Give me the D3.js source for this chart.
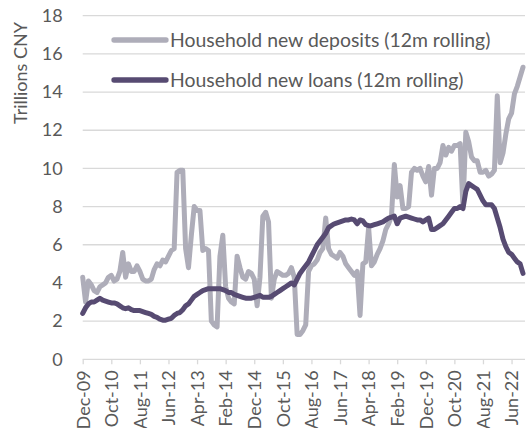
<!DOCTYPE html>
<html>
<head>
<meta charset="utf-8">
<script src="https://cdn.jsdelivr.net/npm/d3@7"></script>
<style>
  body { margin: 0; background: #fff; }
  text { font-family: Lato, "Liberation Sans", sans-serif; fill: #595959; }
</style>
</head>
<body>
<div class="canvas"></div>
<script>
// monthly categories, Dec-09 .. Oct-22
const months = d3.timeMonth.range(new Date(2009, 11, 1), new Date(2022, 10, 1));
const tickLabels = ['Dec-09','Oct-10','Aug-11','Jun-12','Apr-13','Feb-14','Dec-14','Oct-15',
  'Aug-16','Jun-17','Apr-18','Feb-19','Dec-19','Oct-20','Aug-21','Jun-22'];
const yTicks = [0, 2, 4, 6, 8, 10, 12, 14, 16, 18];

const deposits = [
  4.3, 3.0, 4.1, 3.9, 3.6, 3.5, 3.8, 3.9, 4.0, 4.3,
  4.4, 4.1, 4.2, 4.6, 5.6, 4.3, 5.0, 4.6, 4.6, 4.9,
  4.6, 4.2, 4.1, 4.1, 4.2, 4.7, 5.0, 4.9, 5.2, 5.1,
  5.4, 5.7, 5.8, 9.8, 9.9, 9.9, 5.8, 4.8, 6.5, 8.0,
  7.8, 7.8, 5.7, 5.8, 5.7, 2.0, 1.8, 1.7, 5.4, 6.5,
  3.8, 3.2, 3.0, 2.9, 5.4, 4.8, 4.3, 4.2, 4.6, 4.5,
  4.2, 2.8, 4.3, 7.5, 7.7, 7.2, 3.2, 4.2, 4.6, 4.5,
  4.4, 4.4, 4.5, 4.8, 4.3, 1.3, 1.3, 1.5, 1.8, 4.6,
  4.9, 5.0, 5.2, 5.6, 5.8, 7.4, 5.8, 5.5, 5.4, 5.3,
  5.6, 5.4, 5.0, 4.8, 4.6, 4.4, 4.6, 2.3, 5.0, 5.1,
  6.9, 4.9, 5.1, 5.5, 5.8, 6.2, 6.8, 7.1, 7.5, 10.2,
  8.5, 9.1, 7.9, 7.9, 8.0, 9.8, 10.0, 9.9, 10.0, 9.6,
  9.3, 10.1, 8.6, 10.0, 10.0, 10.3, 11.2, 10.7, 11.1, 10.9,
  11.2, 11.2, 11.3, 8.0, 11.9, 11.4, 10.6, 10.4, 10.4, 9.8,
  9.8, 9.9, 9.6, 9.7, 9.9, 13.8, 10.3, 10.8, 11.8, 12.6,
  12.9, 13.9, 14.3, 14.8, 15.3
];
const loans = [
  2.4, 2.7, 2.9, 3.0, 3.0, 3.1, 3.2, 3.1, 3.05, 3.0,
  2.95, 2.95, 2.9, 2.8, 2.7, 2.65, 2.7, 2.6, 2.55, 2.55,
  2.55, 2.5, 2.45, 2.4, 2.35, 2.25, 2.2, 2.1, 2.05, 2.05,
  2.1, 2.15, 2.3, 2.4, 2.45, 2.6, 2.8, 2.9, 3.1, 3.3,
  3.4, 3.5, 3.6, 3.65, 3.7, 3.7, 3.7, 3.7, 3.7, 3.65,
  3.6, 3.5, 3.5, 3.4, 3.35, 3.3, 3.25, 3.2, 3.2, 3.2,
  3.25, 3.3, 3.35, 3.25, 3.25, 3.25, 3.3, 3.4, 3.5, 3.6,
  3.7, 3.8, 3.9, 4.0, 3.9, 4.2, 4.5, 4.7, 4.9, 5.1,
  5.4, 5.7, 6.0, 6.2, 6.4, 6.6, 6.9, 7.0, 7.1, 7.15,
  7.2, 7.25, 7.3, 7.3, 7.35, 7.3, 7.1, 7.3, 7.25, 7.05,
  7.0, 7.0, 7.05, 7.1, 7.15, 7.2, 7.3, 7.4, 7.45, 7.5,
  7.1, 7.4, 7.45, 7.5, 7.45, 7.4, 7.35, 7.3, 7.3, 7.2,
  7.3, 7.4, 6.8, 6.8, 6.9, 7.0, 7.1, 7.3, 7.5, 7.7,
  7.9, 7.9, 8.0, 7.9, 8.8, 9.2, 9.1, 9.0, 8.9, 8.6,
  8.3, 8.1, 8.1, 8.1, 7.9, 7.4, 6.9, 6.3, 5.9, 5.6,
  5.5, 5.3, 5.1, 5.0, 4.5
];

const fmt = d3.timeFormat('%b-%y');
const cats = months.map(fmt);

const width = 532, height = 428;
const svg = d3.select('.canvas')
  .append('svg')
    .attr('width', width)
    .attr('height', height);

const x = d3.scalePoint()
  .domain(cats)
  .range([82.7, 523]);
const y = d3.scaleLinear()
  .domain([0, 18])
  .range([359.3, 15.7]);

// gridlines
svg.append('g')
  .selectAll('line')
  .data(yTicks.slice(1))
  .enter()
  .append('line')
    .attr('x1', 82.7)
    .attr('x2', 525)
    .attr('y1', d => y(d))
    .attr('y2', d => y(d))
    .attr('stroke', '#d9d9d9')
    .attr('stroke-width', 1.3);

// y axis labels
const yAxis = d3.axisLeft(y)
  .tickValues(yTicks)
  .tickSize(0)
  .tickPadding(20);
const yAxisGroup = svg.append('g')
  .attr('transform', 'translate(82.7,0)')
  .call(yAxis);
yAxisGroup.select('.domain').remove();
yAxisGroup.selectAll('text')
  .attr('font-size', 18)
  .attr('fill', '#595959');

// x axis
const xAxis = d3.axisBottom(x)
  .tickValues(tickLabels)
  .tickSize(5)
  .tickSizeOuter(0)
  .tickPadding(4);
const xAxisGroup = svg.append('g')
  .attr('transform', `translate(0, ${y(0)})`)
  .call(xAxis);
xAxisGroup.select('.domain')
  .attr('d', `M82.7,0H525`)
  .attr('stroke', '#d9d9d9')
  .attr('stroke-width', 1.3);
xAxisGroup.selectAll('.tick line')
  .attr('stroke', '#d9d9d9')
  .attr('stroke-width', 1.3);
xAxisGroup.selectAll('text')
  .attr('font-size', 18)
  .attr('fill', '#595959')
  .attr('transform', 'rotate(-90)')
  .attr('text-anchor', 'end')
  .attr('dy', '0.35em')
  .attr('x', -11)
  .attr('y', 0);

// axis title
svg.append('text')
  .attr('transform', 'translate(27,73) rotate(-90)')
  .attr('text-anchor', 'middle')
  .attr('font-size', 18)
  .text('Trillions CNY');

const line = d3.line()
  .x((d, i) => x(cats[i]))
  .y(d => y(d));

svg.append('path')
  .datum(deposits)
  .attr('fill', 'none')
  .attr('stroke', '#aeadb9')
  .attr('stroke-width', 5)
  .attr('stroke-linejoin', 'round')
  .attr('stroke-linecap', 'round')
  .attr('d', line);

svg.append('path')
  .datum(loans)
  .attr('fill', 'none')
  .attr('stroke', '#574b72')
  .attr('stroke-width', 5)
  .attr('stroke-linejoin', 'round')
  .attr('stroke-linecap', 'round')
  .attr('d', line);

// legend
const legend = [
  {name: 'Household new deposits (12m rolling)', color: '#aeadb9', y: 40},
  {name: 'Household new loans (12m rolling)', color: '#574b72', y: 80}
];
const lg = svg.append('g')
  .selectAll('g')
  .data(legend)
  .enter()
  .append('g')
    .attr('transform', d => `translate(0, ${d.y})`);
lg.append('line')
  .attr('x1', 114).attr('x2', 166)
  .attr('stroke', d => d.color)
  .attr('stroke-width', 5.3)
  .attr('stroke-linecap', 'round');
lg.append('text')
  .attr('x', 170)
  .attr('dy', '0.35em')
  .attr('font-size', 19.4)
  .text(d => d.name);
</script>
</body>
</html>
